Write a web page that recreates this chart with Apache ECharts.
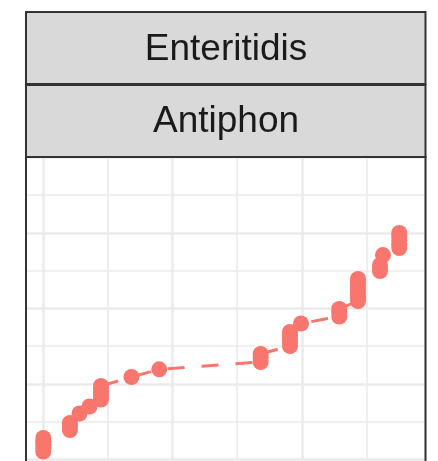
<!DOCTYPE html>
<html>
<head>
<meta charset="utf-8">
<script src="https://cdn.jsdelivr.net/npm/echarts@6/dist/echarts.min.js"></script>
<style>
  html, body { margin: 0; padding: 0; background: #fff; }
  #chart { width: 438px; height: 461px; }
</style>
</head>
<body>
<div id="chart"></div>
<script>
// strip labels (facet rows)
const stripTop = 'Enteritidis'
const stripBottom = 'Antiphon'

// points, in plotting order (x ascending, then y); stacked values overlap
const xValues = [
  0, 0, 0, 0, 0,
  0.206, 0.206, 0.206,
  0.280,
  0.357,
  0.446, 0.446, 0.446, 0.446, 0.446,
  0.682,
  0.897,
  1.681, 1.681, 1.681,
  1.908, 1.908, 1.908, 1.908, 1.908,
  1.993,
  2.289, 2.289, 2.289,
  2.434, 2.434, 2.434, 2.434, 2.434, 2.434, 2.434,
  2.604, 2.604, 2.604, 2.627,
  2.753, 2.753, 2.753, 2.753, 2.753,
]
const yValues = [
  0.103, 0.148, 0.193, 0.238, 0.282,
  0.388, 0.434, 0.481,
  0.607,
  0.699,
  0.792, 0.838, 0.885, 0.928, 0.971,
  1.090,
  1.192,
  1.289, 1.342, 1.395,
  1.501, 1.547, 1.593, 1.640, 1.686,
  1.799,
  1.891, 1.941, 1.991,
  2.097, 2.146, 2.194, 2.243, 2.291, 2.340, 2.388,
  2.494, 2.534, 2.573, 2.705,
  2.799, 2.848, 2.898, 2.948, 2.997,
]

const chart = echarts.init(document.getElementById('chart'))

const gridColor = '#EBEBEB'
const borderColor = '#333333'
const pointColor = '#F8766D'

chart.setOption({
  animation: false,
  grid: { left: -86, right: 12.5, top: 157.3, bottom: -73.8, outerBoundsMode: 'none', containLabel: false },
  xAxis: {
    type: 'value',
    min: -1,
    max: 2.956,
    interval: 1,
    axisLine: { show: false },
    axisTick: { show: false },
    axisLabel: { show: false },
    splitLine: { show: true, lineStyle: { color: gridColor, width: 2.6 } },
    minorTick: { show: false, splitNumber: 2 },
    minorSplitLine: { show: true, lineStyle: { color: gridColor, width: 1.6 } },
  },
  yAxis: {
    type: 'value',
    min: -1,
    max: 4,
    interval: 1,
    axisLine: { show: false },
    axisTick: { show: false },
    axisLabel: { show: false },
    splitLine: { show: true, lineStyle: { color: gridColor, width: 2.6 } },
    minorTick: { show: false, splitNumber: 2 },
    minorSplitLine: { show: true, lineStyle: { color: gridColor, width: 1.6 } },
  },
  series: [
    {
      type: 'line',
      data: xValues.map((x, i) => [x, yValues[i]]),
      symbol: 'circle',
      symbolSize: 16,
      showAllSymbol: true,
      itemStyle: { color: pointColor },
      lineStyle: { color: pointColor, width: 3, type: [17, 17] },
      emphasis: { disabled: true },
    },
  ],
  graphic: [
    // cover the grid overflow to the left of the panel
    { type: 'rect', z: 100, shape: { x: 0, y: 0, width: 25, height: 461 }, style: { fill: '#fff' } },
    // panel border
    { type: 'rect', z: 101, shape: { x: 26, y: 157, width: 399.5, height: 340 }, style: { fill: 'none', stroke: borderColor, lineWidth: 2 } },
    // strips
    { type: 'rect', z: 101, shape: { x: 26, y: 12, width: 399.5, height: 72 }, style: { fill: '#D9D9D9', stroke: borderColor, lineWidth: 2 } },
    { type: 'rect', z: 101, shape: { x: 26, y: 85, width: 399.5, height: 72 }, style: { fill: '#D9D9D9', stroke: borderColor, lineWidth: 2 } },
    { type: 'text', z: 102, x: 226, y: 49.5, style: { text: stripTop, fill: '#1A1A1A', font: '37px "Liberation Sans", Arial, sans-serif', align: 'center', verticalAlign: 'middle' } },
    { type: 'text', z: 102, x: 226, y: 122, style: { text: stripBottom, fill: '#1A1A1A', font: '37px "Liberation Sans", Arial, sans-serif', align: 'center', verticalAlign: 'middle' } },
  ],
})
</script>
</body>
</html>
